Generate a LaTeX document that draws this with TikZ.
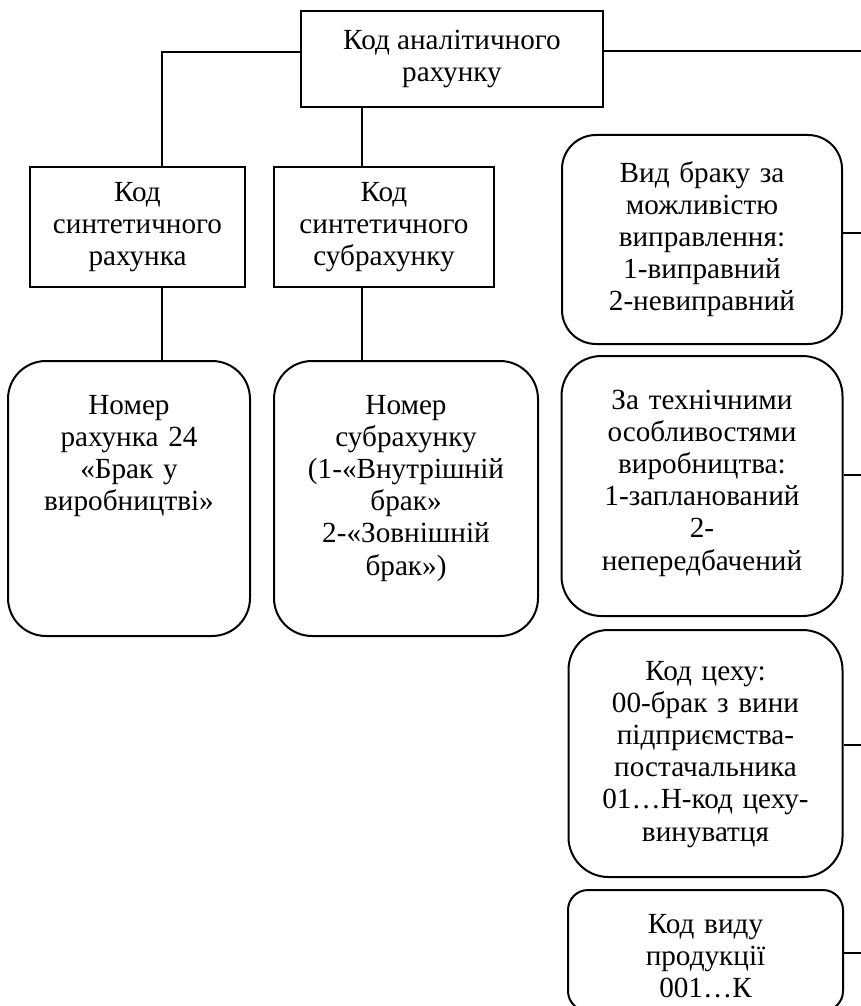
\documentclass[tikz,border=0pt]{standalone}
\usepackage{fontspec}
\setmainfont{Liberation Serif}
\usepackage{tikz}
\usetikzlibrary{positioning}

\begin{document}
\begin{tikzpicture}[
  x=0.5pt, y=-0.5pt,
  font=\fontsize{14.6}{16.1}\selectfont,
  box/.style={rectangle, draw=black, line width=1pt, align=center, inner sep=0pt},
  codebox/.style={box, minimum height=60pt},
  infobox/.style={box, anchor=north west},
  link/.style={line width=1pt, color=black}
]
\useasboundingbox (0,0) rectangle (861,1006);

\node[box, minimum width=151pt, minimum height=48pt] (anal) at (452,59) {%
  Код аналітичного\\
  рахунку
};
\node[codebox, minimum width=107.5pt] (synth) at (137.5,227) {%
  Код\\
  синтетичного\\
  рахунка
};
\node[codebox, minimum width=110pt, right=13.5pt of synth] (subsynth) {%
  Код\\
  синтетичного\\
  субрахунку
};
\node[infobox, rounded corners=19pt, text width=121pt, text height=26.5pt, text depth=111pt] (num) at (7,360) {%
  Номер\\
  рахунка 24\\
  «Брак у\\
  виробництві»
};
\node[infobox, rounded corners=19pt, text width=132pt, text height=26.5pt, text depth=111pt, right=11pt of num] (subnum) {%
  Номер\\
  субрахунку\\
  (1-«Внутрішній\\
  брак»\\
  2-«Зовнішній\\
  брак»)
};
\node[infobox, rounded corners=17pt, text width=140pt, text height=23.5pt, text depth=81pt] (kind) at (561,134) {%
  Вид браку за\\
  можливістю\\
  виправлення:\\
  1-виправний\\
  2-невиправний
};
\node[infobox, rounded corners=20pt, text width=140.5pt, text height=26.5pt, text depth=103.5pt, below=5pt of kind] (tech) {%
  За технічними\\
  особливостями\\
  виробництва:\\
  1-запланований\\
  2-\\
  непередбачений
};
\node[infobox, rounded corners=20pt, text width=137pt, text height=25pt, text depth=98.5pt, below=6pt of tech, xshift=1.75pt] (shop) {%
  Код цеху:\\
  00-брак з вини\\
  підприємства-\\
  постачальника\\
  01…Н-код цеху-\\
  винуватця
};
\node[infobox, rounded corners=10pt, text width=137.5pt, text height=21.5pt, text depth=39pt, below=5.5pt of shop] (prod) {%
  Код виду\\
  продукції\\
  001…К
};

\coordinate (jL) at (162,52);
\coordinate (jM) at (362,0);
\coordinate (eT) at (861,51);
\coordinate (eA) at (861,233);
\coordinate (eB) at (861,475);
\coordinate (eC) at (861,745);
\coordinate (eD) at (861,953);

\draw[link] (anal.west |- jL) -| (jL |- synth.north);
\draw[link] (anal.east |- eT) -- (eT);
\draw[link] (jM |- anal.south) -- (jM |- subsynth.north);
\draw[link] (jL |- synth.south) -- (jL |- num.north);
\draw[link] (jM |- subsynth.south) -- (jM |- subnum.north);
\draw[link] (kind.east |- eA) -- (eA);
\draw[link] (tech.east |- eB) -- (eB);
\draw[link] (shop.east |- eC) -- (eC);
\draw[link] (prod.east |- eD) -- (eD);

\end{tikzpicture}
\end{document}
